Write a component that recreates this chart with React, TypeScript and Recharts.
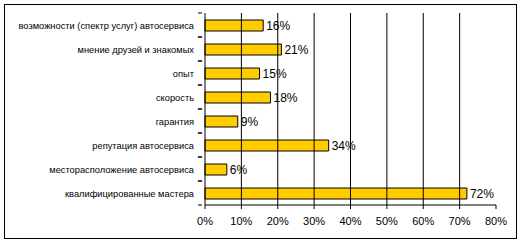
import { Bar, BarChart, XAxis, YAxis, LabelList, ReferenceLine } from "recharts";

const categories = [
  "возможности (спектр услуг) автосервиса",
  "мнение друзей и знакомых",
  "опыт",
  "скорость",
  "гарантия",
  "репутация автосервиса",
  "месторасположение автосервиса",
  "квалифицированные мастера",
];
const shares = [16, 21, 15, 18, 9, 34, 6, 72];
const xTicks = [0, 10, 20, 30, 40, 50, 60, 70, 80];
const gridValues = [10, 20, 30, 40, 50, 60, 70];

const data = categories.map((name, i) => ({ name, value: shares[i] }));

const FONT = "Arial, 'Liberation Sans', sans-serif";

/**
 * Category tick: label plus tick marks at band edges, like Excel
 */
const CategoryTick = (props: any) => {
  const { x, y, payload } = props;
  const half = 12;
  return (
    <g>
      <line x1={x + 1} x2={x + 5} y1={y - half} y2={y - half} stroke="#000" />
      <line x1={x + 1} x2={x + 5} y1={y + half} y2={y + half} stroke="#000" />
      <text x={x - 3} y={y} dy={3.5} textAnchor="end" fontSize={9.3} fontFamily={FONT} fill="#000">
        {payload.value}
      </text>
    </g>
  );
};

const App = () => {
  return (
    <div style={{ position: "absolute", left: 0, top: 0, width: 521, height: 243, background: "#fff" }}>
      <div
        style={{
          position: "absolute",
          left: 4,
          top: 4,
          width: 511,
          height: 233,
          border: "1px solid #000",
        }}
      />
      <BarChart
        width={521}
        height={243}
        data={data}
        layout="vertical"
        margin={{ top: 13, right: 25, bottom: 0, left: 0 }}
        barCategoryGap={0}
      >
        <XAxis
          type="number"
          domain={[0, 80]}
          ticks={xTicks}
          interval={0}
          tickFormatter={(v: number) => `${v}%`}
          stroke="#000"
          tickSize={4}
          tickMargin={8}
          tick={{ fill: "#000", fontSize: 11, fontFamily: FONT }}
          height={38}
        />
        <XAxis
          xAxisId="top"
          orientation="top"
          type="number"
          domain={[0, 80]}
          tick={false}
          tickLine={false}
          height={0}
          stroke="#808080"
        />
        <YAxis
          type="category"
          dataKey="name"
          width={205}
          stroke="#000"
          tickLine={false}
          interval={0}
          tick={<CategoryTick />}
        />
        <YAxis
          yAxisId="right"
          orientation="right"
          type="category"
          dataKey="name"
          width={0}
          tick={false}
          tickLine={false}
          stroke="#808080"
        />
        {gridValues.map((v) => (
          <ReferenceLine key={v} x={v} stroke="#000" strokeWidth={1} />
        ))}
        <Bar dataKey="value" fill="#FFCC00" stroke="#000" strokeWidth={1} barSize={11} isAnimationActive={false}>
          <LabelList
            dataKey="value"
            position="right"
            offset={3}
            formatter={(v: any) => `${v}%`}
            fill="#000"
            fontSize={12}
            fontFamily={FONT}
          />
        </Bar>
      </BarChart>
    </div>
  );
};

export default App;
